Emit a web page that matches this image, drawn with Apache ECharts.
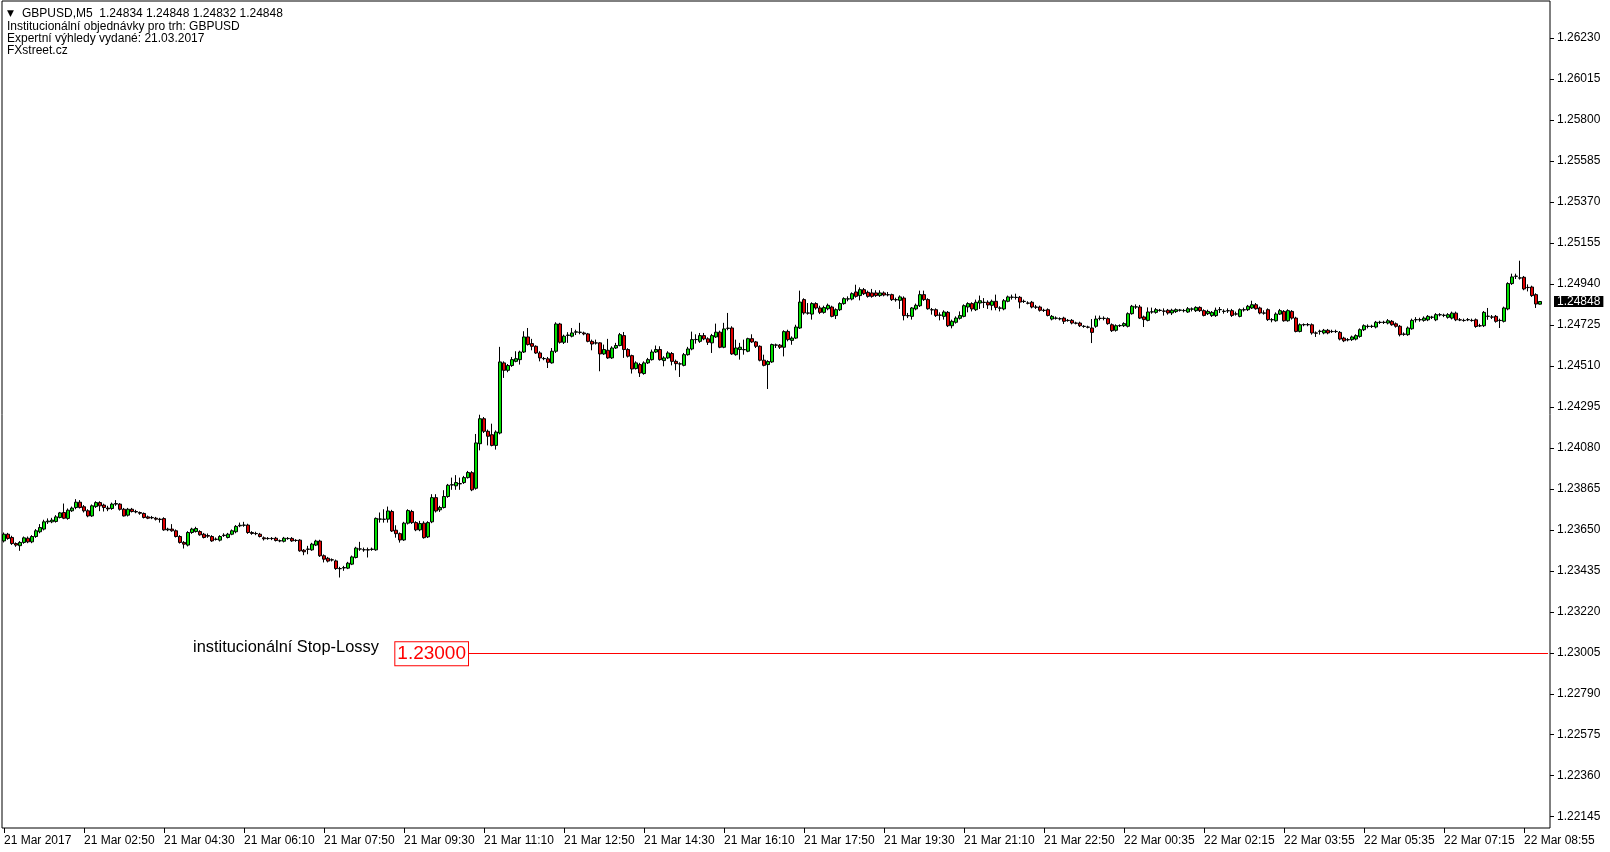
<!DOCTYPE html>
<html>
<head>
<meta charset="utf-8">
<title>GBPUSD M5</title>
<script src="https://cdn.jsdelivr.net/npm/echarts@6.0.0/dist/echarts.min.js"></script>
<style>
  html, body { margin: 0; padding: 0; background: #ffffff; }
  #chart { width: 1610px; height: 852px; }
</style>
</head>
<body>
<div id="chart"></div>
<script>
// ---------------- DATA ----------------
const symbolName = 'GBPUSD';
const timeframe = 'M5';
const headerLines = [
  'Institucionální objednávky pro trh: GBPUSD',
  'Expertní výhledy vydané: 21.03.2017',
  'FXstreet.cz'
];
const stopLabelText = 'institucionální Stop-Lossy';
const stopLevel = 1.23000;
const stopStartIndex = 116;

// x-axis labels, one every 20 bars (5-minute bars)
const tickLabels = [
  '21 Mar 2017', '21 Mar 02:50', '21 Mar 04:30', '21 Mar 06:10', '21 Mar 07:50',
  '21 Mar 09:30', '21 Mar 11:10', '21 Mar 12:50', '21 Mar 14:30', '21 Mar 16:10',
  '21 Mar 17:50', '21 Mar 19:30', '21 Mar 21:10', '21 Mar 22:50', '22 Mar 00:35',
  '22 Mar 02:15', '22 Mar 03:55', '22 Mar 05:35', '22 Mar 07:15', '22 Mar 08:55'
];

// price-axis labels
const priceTicks = [
  1.22145, 1.22360, 1.22575, 1.22790, 1.23005, 1.23220, 1.23435, 1.23650, 1.23865, 1.24080,
  1.24295, 1.24510, 1.24725, 1.24940, 1.25155, 1.25370, 1.25585, 1.25800, 1.26015, 1.26230
];

const openPrices = [
1.23592,1.23627,1.23610,1.23578,1.23567,1.23584,1.23606,1.23587,1.23615,1.23640,1.23654,1.23692,1.23692,1.23694,1.23715,1.23741,1.23710,1.23750,1.23767,1.23795,
1.23771,1.23750,1.23723,1.23772,1.23793,1.23780,1.23764,1.23762,1.23785,1.23785,1.23758,1.23727,1.23758,1.23746,1.23741,1.23736,1.23718,1.23715,1.23711,1.23706,
1.23709,1.23650,1.23654,1.23645,1.23615,1.23584,1.23570,1.23636,1.23641,1.23641,1.23627,1.23620,1.23615,1.23601,1.23596,1.23622,1.23610,1.23627,1.23640,1.23671,
1.23674,1.23675,1.23636,1.23631,1.23627,1.23608,1.23605,1.23604,1.23606,1.23593,1.23590,1.23605,1.23605,1.23595,1.23596,1.23543,1.23549,1.23545,1.23570,1.23591,
1.23514,1.23501,1.23493,1.23487,1.23447,1.23450,1.23449,1.23470,1.23505,1.23549,1.23545,1.23546,1.23547,1.23545,1.23706,1.23706,1.23706,1.23746,1.23648,1.23630,
1.23597,1.23685,1.23746,1.23688,1.23650,1.23685,1.23613,1.23692,1.23819,1.23755,1.23767,1.23825,1.23885,1.23881,1.23893,1.23898,1.23924,1.23950,1.23868,1.24102,
1.24233,1.24167,1.24149,1.24093,1.24158,1.24526,1.24487,1.24512,1.24534,1.24543,1.24583,1.24662,1.24627,1.24613,1.24578,1.24548,1.24547,1.24526,1.24587,1.24730,
1.24634,1.24670,1.24666,1.24687,1.24687,1.24683,1.24678,1.24639,1.24631,1.24631,1.24573,1.24592,1.24552,1.24604,1.24617,1.24669,1.24596,1.24564,1.24496,1.24517,
1.24470,1.24526,1.24543,1.24583,1.24596,1.24538,1.24552,1.24575,1.24534,1.24520,1.24513,1.24569,1.24599,1.24648,1.24639,1.24669,1.24652,1.24631,1.24662,1.24687,
1.24608,1.24707,1.24709,1.24569,1.24596,1.24596,1.24587,1.24653,1.24636,1.24613,1.24540,1.24517,1.24531,1.24620,1.24619,1.24608,1.24691,1.24644,1.24656,1.24709,
1.24858,1.24788,1.24782,1.24837,1.24814,1.24791,1.24810,1.24819,1.24774,1.24805,1.24837,1.24861,1.24861,1.24898,1.24879,1.24910,1.24896,1.24893,1.24893,1.24879,
1.24893,1.24884,1.24884,1.24858,1.24854,1.24866,1.24774,1.24770,1.24809,1.24826,1.24884,1.24858,1.24805,1.24805,1.24777,1.24770,1.24791,1.24721,1.24739,1.24760,
1.24770,1.24819,1.24837,1.24805,1.24840,1.24844,1.24844,1.24828,1.24849,1.24814,1.24809,1.24849,1.24870,1.24870,1.24870,1.24849,1.24840,1.24844,1.24819,1.24819,
1.24802,1.24805,1.24756,1.24761,1.24758,1.24761,1.24749,1.24749,1.24735,1.24735,1.24718,1.24714,1.24709,1.24718,1.24760,1.24759,1.24758,1.24726,1.24697,1.24721,
1.24721,1.24718,1.24784,1.24819,1.24819,1.24767,1.24749,1.24793,1.24791,1.24802,1.24798,1.24802,1.24788,1.24795,1.24802,1.24800,1.24793,1.24808,1.24800,1.24817,
1.24800,1.24784,1.24774,1.24774,1.24805,1.24796,1.24800,1.24800,1.24782,1.24770,1.24805,1.24805,1.24814,1.24831,1.24814,1.24788,1.24805,1.24753,1.24747,1.24782,
1.24796,1.24747,1.24796,1.24761,1.24691,1.24726,1.24727,1.24726,1.24683,1.24691,1.24683,1.24697,1.24691,1.24691,1.24686,1.24656,1.24648,1.24648,1.24651,1.24665,
1.24700,1.24718,1.24717,1.24714,1.24739,1.24738,1.24735,1.24744,1.24731,1.24718,1.24677,1.24674,1.24705,1.24752,1.24753,1.24749,1.24752,1.24765,1.24752,1.24779,
1.24775,1.24765,1.24761,1.24787,1.24752,1.24749,1.24752,1.24749,1.24752,1.24721,1.24721,1.24770,1.24767,1.24770,1.24749,1.24744,1.24809,1.24942,1.24980,1.24971,
1.24975,1.24922,1.24924,1.24884,1.24834
];

const closePrices = [
1.23627,1.23605,1.23578,1.23570,1.23584,1.23608,1.23587,1.23615,1.23645,1.23662,1.23692,1.23696,1.23701,1.23718,1.23739,1.23711,1.23753,1.23764,1.23795,1.23767,
1.23750,1.23723,1.23776,1.23793,1.23776,1.23767,1.23760,1.23785,1.23788,1.23758,1.23723,1.23758,1.23746,1.23744,1.23737,1.23715,1.23711,1.23713,1.23706,1.23704,
1.23650,1.23654,1.23645,1.23615,1.23584,1.23575,1.23636,1.23654,1.23657,1.23624,1.23610,1.23617,1.23592,1.23600,1.23615,1.23620,1.23627,1.23645,1.23668,1.23674,
1.23675,1.23636,1.23631,1.23630,1.23615,1.23603,1.23604,1.23605,1.23594,1.23592,1.23606,1.23604,1.23592,1.23594,1.23540,1.23535,1.23548,1.23575,1.23591,1.23514,
1.23496,1.23486,1.23492,1.23447,1.23446,1.23452,1.23475,1.23508,1.23554,1.23550,1.23546,1.23544,1.23549,1.23710,1.23707,1.23705,1.23749,1.23644,1.23630,1.23597,
1.23685,1.23751,1.23688,1.23650,1.23683,1.23609,1.23688,1.23819,1.23749,1.23767,1.23825,1.23884,1.23887,1.23898,1.23891,1.23924,1.23951,1.23860,1.24106,1.24233,
1.24167,1.24141,1.24093,1.24163,1.24531,1.24487,1.24512,1.24543,1.24548,1.24583,1.24662,1.24622,1.24613,1.24578,1.24552,1.24549,1.24529,1.24587,1.24730,1.24634,
1.24666,1.24672,1.24683,1.24689,1.24686,1.24678,1.24639,1.24625,1.24630,1.24573,1.24596,1.24552,1.24604,1.24617,1.24674,1.24596,1.24561,1.24494,1.24526,1.24473,
1.24526,1.24543,1.24583,1.24596,1.24543,1.24552,1.24578,1.24534,1.24522,1.24521,1.24569,1.24599,1.24648,1.24649,1.24669,1.24652,1.24634,1.24669,1.24687,1.24608,
1.24704,1.24708,1.24573,1.24604,1.24608,1.24595,1.24653,1.24636,1.24613,1.24540,1.24513,1.24533,1.24622,1.24619,1.24608,1.24690,1.24648,1.24656,1.24714,1.24845,
1.24788,1.24787,1.24837,1.24814,1.24791,1.24816,1.24828,1.24770,1.24805,1.24837,1.24863,1.24862,1.24889,1.24875,1.24910,1.24889,1.24875,1.24875,1.24879,1.24893,
1.24882,1.24883,1.24858,1.24857,1.24872,1.24774,1.24773,1.24814,1.24828,1.24884,1.24858,1.24810,1.24804,1.24774,1.24776,1.24793,1.24721,1.24744,1.24761,1.24774,
1.24826,1.24837,1.24809,1.24844,1.24852,1.24843,1.24830,1.24849,1.24817,1.24813,1.24852,1.24872,1.24871,1.24869,1.24845,1.24848,1.24839,1.24819,1.24818,1.24802,
1.24801,1.24775,1.24770,1.24760,1.24757,1.24744,1.24748,1.24735,1.24734,1.24721,1.24717,1.24713,1.24686,1.24756,1.24759,1.24760,1.24732,1.24695,1.24721,1.24722,
1.24732,1.24784,1.24823,1.24820,1.24761,1.24753,1.24793,1.24794,1.24805,1.24801,1.24797,1.24788,1.24802,1.24805,1.24803,1.24801,1.24810,1.24809,1.24817,1.24800,
1.24775,1.24796,1.24791,1.24802,1.24806,1.24797,1.24799,1.24775,1.24783,1.24805,1.24804,1.24823,1.24831,1.24810,1.24788,1.24787,1.24753,1.24752,1.24782,1.24800,
1.24747,1.24800,1.24761,1.24691,1.24726,1.24727,1.24726,1.24683,1.24682,1.24692,1.24697,1.24683,1.24690,1.24690,1.24651,1.24642,1.24647,1.24662,1.24669,1.24700,
1.24721,1.24717,1.24718,1.24739,1.24738,1.24739,1.24747,1.24726,1.24718,1.24674,1.24676,1.24709,1.24749,1.24753,1.24752,1.24761,1.24770,1.24766,1.24779,1.24778,
1.24776,1.24779,1.24787,1.24752,1.24751,1.24748,1.24753,1.24748,1.24717,1.24720,1.24791,1.24771,1.24766,1.24744,1.24748,1.24814,1.24942,1.24977,1.24981,1.24972,
1.24914,1.24921,1.24879,1.24835,1.24848
];

const lowPrices = [
1.23584,1.23598,1.23571,1.23561,1.23540,1.23577,1.23580,1.23580,1.23608,1.23632,1.23647,1.23681,1.23685,1.23688,1.23710,1.23706,1.23703,1.23744,1.23758,1.23762,
1.23741,1.23716,1.23718,1.23765,1.23748,1.23746,1.23748,1.23755,1.23776,1.23751,1.23720,1.23720,1.23741,1.23737,1.23729,1.23710,1.23706,1.23706,1.23699,1.23688,
1.23645,1.23643,1.23640,1.23610,1.23578,1.23552,1.23563,1.23629,1.23636,1.23619,1.23605,1.23608,1.23587,1.23594,1.23589,1.23613,1.23605,1.23622,1.23632,1.23664,
1.23666,1.23629,1.23624,1.23622,1.23610,1.23594,1.23598,1.23596,1.23589,1.23585,1.23584,1.23598,1.23587,1.23587,1.23535,1.23517,1.23522,1.23540,1.23565,1.23508,
1.23479,1.23479,1.23484,1.23440,1.23400,1.23435,1.23444,1.23465,1.23500,1.23540,1.23535,1.23505,1.23540,1.23540,1.23688,1.23688,1.23688,1.23639,1.23609,1.23583,
1.23592,1.23678,1.23681,1.23643,1.23643,1.23604,1.23607,1.23685,1.23741,1.23744,1.23762,1.23818,1.23860,1.23860,1.23860,1.23891,1.23919,1.23853,1.23861,1.24067,
1.24158,1.24093,1.24088,1.24071,1.24151,1.24447,1.24477,1.24505,1.24529,1.24517,1.24578,1.24617,1.24592,1.24573,1.24534,1.24540,1.24499,1.24522,1.24578,1.24627,
1.24625,1.24631,1.24660,1.24672,1.24676,1.24671,1.24634,1.24592,1.24622,1.24482,1.24568,1.24547,1.24547,1.24599,1.24613,1.24552,1.24554,1.24470,1.24491,1.24452,
1.24464,1.24520,1.24538,1.24578,1.24538,1.24508,1.24547,1.24513,1.24487,1.24452,1.24508,1.24564,1.24592,1.24627,1.24631,1.24645,1.24620,1.24578,1.24657,1.24603,
1.24603,1.24697,1.24568,1.24564,1.24543,1.24569,1.24582,1.24631,1.24604,1.24534,1.24508,1.24389,1.24526,1.24604,1.24599,1.24560,1.24639,1.24621,1.24651,1.24704,
1.24779,1.24779,1.24753,1.24805,1.24782,1.24784,1.24802,1.24765,1.24756,1.24798,1.24831,1.24849,1.24854,1.24868,1.24854,1.24882,1.24868,1.24868,1.24872,1.24872,
1.24875,1.24875,1.24851,1.24847,1.24809,1.24749,1.24761,1.24753,1.24802,1.24819,1.24851,1.24805,1.24779,1.24767,1.24749,1.24753,1.24714,1.24707,1.24732,1.24753,
1.24765,1.24791,1.24796,1.24798,1.24809,1.24814,1.24809,1.24802,1.24802,1.24796,1.24802,1.24844,1.24858,1.24858,1.24812,1.24840,1.24833,1.24812,1.24809,1.24795,
1.24793,1.24770,1.24749,1.24753,1.24749,1.24730,1.24742,1.24728,1.24728,1.24714,1.24710,1.24707,1.24630,1.24710,1.24749,1.24749,1.24726,1.24688,1.24690,1.24714,
1.24714,1.24712,1.24779,1.24809,1.24756,1.24714,1.24744,1.24784,1.24784,1.24795,1.24774,1.24779,1.24777,1.24788,1.24795,1.24791,1.24788,1.24796,1.24793,1.24793,
1.24770,1.24777,1.24767,1.24767,1.24788,1.24784,1.24788,1.24767,1.24774,1.24765,1.24795,1.24798,1.24809,1.24805,1.24781,1.24779,1.24746,1.24739,1.24742,1.24777,
1.24742,1.24742,1.24753,1.24686,1.24686,1.24718,1.24718,1.24674,1.24662,1.24674,1.24676,1.24676,1.24683,1.24683,1.24644,1.24635,1.24639,1.24641,1.24644,1.24658,
1.24693,1.24707,1.24709,1.24707,1.24730,1.24730,1.24728,1.24721,1.24711,1.24665,1.24668,1.24668,1.24700,1.24738,1.24742,1.24742,1.24745,1.24756,1.24745,1.24770,
1.24766,1.24758,1.24754,1.24745,1.24745,1.24742,1.24745,1.24742,1.24710,1.24714,1.24714,1.24752,1.24756,1.24737,1.24709,1.24738,1.24802,1.24935,1.24966,1.24963,
1.24907,1.24901,1.24872,1.24814,1.24832
];

const highPrices = [
1.23636,1.23634,1.23619,1.23584,1.23591,1.23615,1.23615,1.23622,1.23654,1.23680,1.23703,1.23710,1.23713,1.23727,1.23744,1.23788,1.23762,1.23772,1.23811,1.23806,
1.23780,1.23758,1.23783,1.23800,1.23800,1.23787,1.23776,1.23793,1.23806,1.23790,1.23765,1.23765,1.23765,1.23755,1.23746,1.23741,1.23725,1.23723,1.23718,1.23713,
1.23716,1.23661,1.23680,1.23652,1.23622,1.23591,1.23643,1.23661,1.23666,1.23648,1.23634,1.23631,1.23622,1.23610,1.23622,1.23632,1.23634,1.23652,1.23675,1.23688,
1.23692,1.23682,1.23643,1.23640,1.23634,1.23615,1.23612,1.23612,1.23613,1.23599,1.23613,1.23612,1.23612,1.23601,1.23601,1.23549,1.23566,1.23582,1.23598,1.23598,
1.23521,1.23508,1.23500,1.23494,1.23456,1.23461,1.23482,1.23515,1.23561,1.23587,1.23557,1.23557,1.23557,1.23715,1.23741,1.23758,1.23772,1.23755,1.23674,1.23636,
1.23692,1.23758,1.23755,1.23695,1.23697,1.23695,1.23695,1.23837,1.23837,1.23776,1.23858,1.23891,1.23924,1.23937,1.23924,1.23933,1.23959,1.23958,1.24153,1.24254,
1.24242,1.24176,1.24207,1.24172,1.24610,1.24534,1.24520,1.24557,1.24587,1.24590,1.24692,1.24709,1.24652,1.24618,1.24587,1.24557,1.24557,1.24604,1.24739,1.24736,
1.24674,1.24687,1.24709,1.24700,1.24736,1.24690,1.24683,1.24648,1.24648,1.24634,1.24622,1.24652,1.24613,1.24631,1.24683,1.24688,1.24603,1.24569,1.24534,1.24526,
1.24534,1.24552,1.24596,1.24617,1.24613,1.24561,1.24587,1.24583,1.24543,1.24529,1.24578,1.24610,1.24690,1.24676,1.24683,1.24683,1.24660,1.24678,1.24732,1.24695,
1.24736,1.24788,1.24718,1.24648,1.24631,1.24648,1.24658,1.24676,1.24641,1.24618,1.24569,1.24540,1.24627,1.24627,1.24625,1.24697,1.24700,1.24665,1.24726,1.24905,
1.24865,1.24840,1.24844,1.24844,1.24826,1.24826,1.24837,1.24826,1.24812,1.24844,1.24870,1.24875,1.24896,1.24936,1.24922,1.24919,1.24905,1.24914,1.24907,1.24907,
1.24901,1.24898,1.24889,1.24868,1.24880,1.24875,1.24788,1.24819,1.24837,1.24905,1.24905,1.24865,1.24814,1.24812,1.24791,1.24802,1.24798,1.24753,1.24770,1.24796,
1.24833,1.24844,1.24844,1.24858,1.24879,1.24866,1.24854,1.24858,1.24884,1.24823,1.24861,1.24879,1.24884,1.24889,1.24877,1.24858,1.24849,1.24851,1.24830,1.24826,
1.24810,1.24812,1.24777,1.24770,1.24765,1.24768,1.24756,1.24756,1.24742,1.24742,1.24724,1.24721,1.24756,1.24774,1.24774,1.24770,1.24765,1.24733,1.24728,1.24728,
1.24739,1.24791,1.24830,1.24833,1.24830,1.24774,1.24817,1.24816,1.24814,1.24809,1.24812,1.24809,1.24810,1.24812,1.24809,1.24809,1.24819,1.24817,1.24823,1.24823,
1.24807,1.24805,1.24798,1.24816,1.24819,1.24807,1.24812,1.24809,1.24795,1.24812,1.24816,1.24830,1.24852,1.24840,1.24821,1.24802,1.24812,1.24761,1.24791,1.24809,
1.24803,1.24807,1.24803,1.24768,1.24733,1.24733,1.24735,1.24733,1.24691,1.24700,1.24704,1.24704,1.24700,1.24700,1.24693,1.24663,1.24656,1.24669,1.24676,1.24707,
1.24728,1.24728,1.24726,1.24746,1.24747,1.24747,1.24756,1.24751,1.24738,1.24725,1.24686,1.24717,1.24758,1.24766,1.24763,1.24770,1.24777,1.24773,1.24787,1.24787,
1.24784,1.24787,1.24795,1.24795,1.24761,1.24758,1.24761,1.24758,1.24759,1.24731,1.24798,1.24814,1.24777,1.24777,1.24758,1.24821,1.24949,1.24994,1.24994,1.25062,
1.24982,1.24938,1.24931,1.24891,1.24848
];

// ---------------- BUILD ----------------
const FONT = '"Liberation Sans", Arial, Helvetica, sans-serif';
const barCount = openPrices.length;          // 385 bars
const slotCount = barCount + 2;              // empty room right of the last bar
const categories = [];
for (let i = 0; i < slotCount; i++) {
  categories.push(i % 20 === 0 && tickLabels[i / 20] ? tickLabels[i / 20] : 'bar' + i);
}
const candleData = openPrices.map((o, i) => [o, closePrices[i], lowPrices[i], highPrices[i]]);
const last = barCount - 1;
const lastClose = closePrices[last];
const headerFirst = symbolName + ',' + timeframe + '  ' +
  [openPrices[last], highPrices[last], lowPrices[last], closePrices[last]].map(v => v.toFixed(5)).join(' ');

const chart = echarts.init(document.getElementById('chart'), null, { renderer: 'canvas' });

const headerYs = [14, 26.4, 38.8, 51.1];
const headerGraphics = [
  { type: 'text', x: 7, y: headerYs[0], z: 100, style: { text: '\u25BC', font: '9px "DejaVu Sans", sans-serif', fill: '#000', verticalAlign: 'middle', align: 'left' } },
  { type: 'text', x: 22, y: headerYs[0], z: 100, style: { text: headerFirst, fontFamily: FONT, fontSize: 12, fill: '#000', verticalAlign: 'middle', align: 'left' } }
];
headerLines.forEach((t, k) => {
  headerGraphics.push({ type: 'text', x: 7, y: headerYs[k + 1], z: 100,
    style: { text: t, fontFamily: FONT, fontSize: 12, fill: '#000', verticalAlign: 'middle', align: 'left' } });
});
headerGraphics.push({ type: 'text', x: 193, y: 647, z: 100,
  style: { text: stopLabelText, fontFamily: FONT, fontSize: 16.4, fill: '#000', verticalAlign: 'middle', align: 'left' } });

const option = {
  animation: false,
  backgroundColor: '#ffffff',
  grid: { left: 2, right: 60, top: 1, bottom: 24, show: true, borderColor: '#000', borderWidth: 1, backgroundColor: '#ffffff' },
  xAxis: {
    type: 'category',
    data: categories,
    boundaryGap: true,
    axisLine: { show: false },
    axisTick: { show: true, alignWithLabel: true, interval: 19, length: 5, lineStyle: { color: '#000', width: 1 } },
    axisLabel: { interval: 19, align: 'left', margin: 7, color: '#000', fontFamily: FONT, fontSize: 12 },
    splitLine: { show: false }
  },
  yAxis: {
    type: 'value',
    position: 'right',
    min: 1.220857,
    max: 1.264246,
    axisLine: { show: false },
    axisTick: { show: true, length: 4, customValues: priceTicks, lineStyle: { color: '#000', width: 1 } },
    axisLabel: { customValues: priceTicks, formatter: v => v.toFixed(5), margin: 7, color: '#000', fontFamily: FONT, fontSize: 12 },
    splitLine: { show: false }
  },
  series: [{
    type: 'candlestick',
    data: candleData,
    barWidth: 3,
    clip: false,
    itemStyle: {
      color: '#00e000', color0: '#e00000',
      borderColor: '#000', borderColor0: '#000', borderColorDoji: '#000', borderWidth: 1
    },
    markLine: {
      silent: true,
      animation: false,
      symbol: ['none', 'none'],
      data: [
        [
          { coord: [stopStartIndex, stopLevel],
            lineStyle: { color: '#ff0000', width: 1, type: 'solid' },
            label: { show: true, position: 'start', distance: 0, formatter: stopLevel.toFixed(5),
                     color: '#ff0000', fontFamily: FONT, fontSize: 19,
                     borderColor: '#ff0000', borderWidth: 1, padding: [3, 2, 1, 2], backgroundColor: '#ffffff' } },
          { coord: [slotCount - 1, stopLevel] }
        ],
        [
          { coord: [last, lastClose],
            lineStyle: { color: 'rgba(0,0,0,0)', width: 0 },
            label: { show: true, position: 'end', distance: 6, formatter: lastClose.toFixed(5),
                     color: '#ffffff', backgroundColor: '#000000', fontFamily: FONT, fontSize: 12,
                     padding: [0, 3, 0, 3], lineHeight: 11 } },
          { coord: [slotCount - 1, lastClose] }
        ]
      ]
    }
  }],
  graphic: headerGraphics
};
chart.setOption(option);
</script>
</body>
</html>
